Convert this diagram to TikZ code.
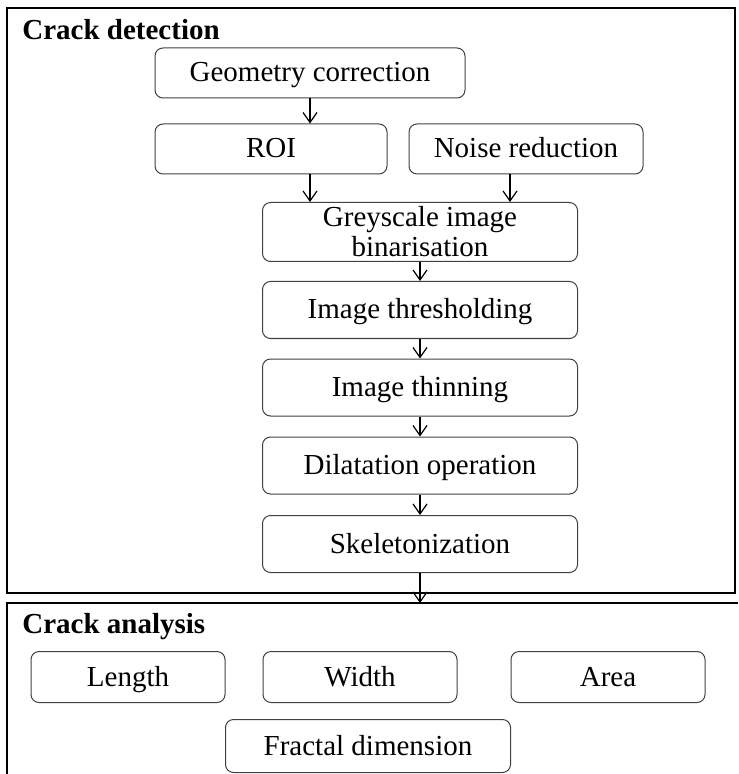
\documentclass[tikz,border=0pt]{standalone}
\usepackage{fontspec}
\setmainfont{Liberation Serif}
\usetikzlibrary{arrows.meta}
\begin{document}
\begin{tikzpicture}[x=0.5pt,y=-0.5pt,
  roundbox/.style={draw=black!75,rounded corners=4pt,line width=0.5pt,inner sep=0pt,
    align=center,font=\fontsize{14.5}{15}\selectfont},
  stepbox/.style={roundbox,text height=11pt,text depth=2pt},
  mainbox/.style={stepbox,minimum width=157.5pt,minimum height=28.5pt},
  resultbox/.style={stepbox,minimum width=97pt,minimum height=25.5pt},
  flowarrow/.style={-{Straight Barb[length=5pt,width=7pt]},line width=0.6pt},
  paneltitle/.style={anchor=base west,inner sep=0pt,font=\bfseries\fontsize{14.5}{16}\selectfont}]
\useasboundingbox (0,0) rectangle (738,774);
% panels
\draw[line width=0.6pt] (7,8) rectangle (735,593);
\draw[line width=0.6pt] (738,603) -- (7,603) -- (7,774);
\node[paneltitle] (dettitle) at (22,40) {Crack detection};
\node[paneltitle] (anatitle) at (22,633.5) {Crack analysis};
% crack detection steps
\node[stepbox,minimum width=155pt,minimum height=25pt] (geom) at (310,73) {Geometry correction};
\node[stepbox,minimum width=116pt,minimum height=25pt] (roi) at (271,149) {ROI};
\node[stepbox,minimum width=117pt,minimum height=25pt] (noise) at (526,149) {Noise reduction};
\node[roundbox,minimum width=157.5pt,minimum height=29.5pt] (grey) at (420,232) {Greyscale image\\binarisation};
\node[mainbox] (thresh) at (420,310) {Image thresholding};
\node[mainbox] (thin) at (420,387.5) {Image thinning};
\node[mainbox] (dilat) at (420,465.5) {Dilatation operation};
\node[mainbox] (skel) at (420,544) {Skeletonization};
\coordinate (entry) at (420,603);
% crack analysis results
\node[resultbox] (length) at (128,677) {Length};
\node[resultbox] (width) at (360,677) {Width};
\node[resultbox] (area) at (608,677) {Area};
\node[stepbox,minimum width=142.5pt,minimum height=26.5pt] (fractal) at (368,746) {Fractal dimension};
% arrows
\draw[flowarrow] (geom.south) -- (geom.south |- roi.north);
\draw[flowarrow] (geom.south |- roi.south) -- (geom.south |- grey.north);
\draw[flowarrow] ([xshift=-8pt]noise.south) -- ([xshift=-8pt]noise.south |- grey.north);
\draw[flowarrow] (grey) -- (thresh);
\draw[flowarrow] (thresh) -- (thin);
\draw[flowarrow] (thin) -- (dilat);
\draw[flowarrow] (dilat) -- (skel);
\draw[flowarrow] (skel) -- (entry);
\end{tikzpicture}
\end{document}
